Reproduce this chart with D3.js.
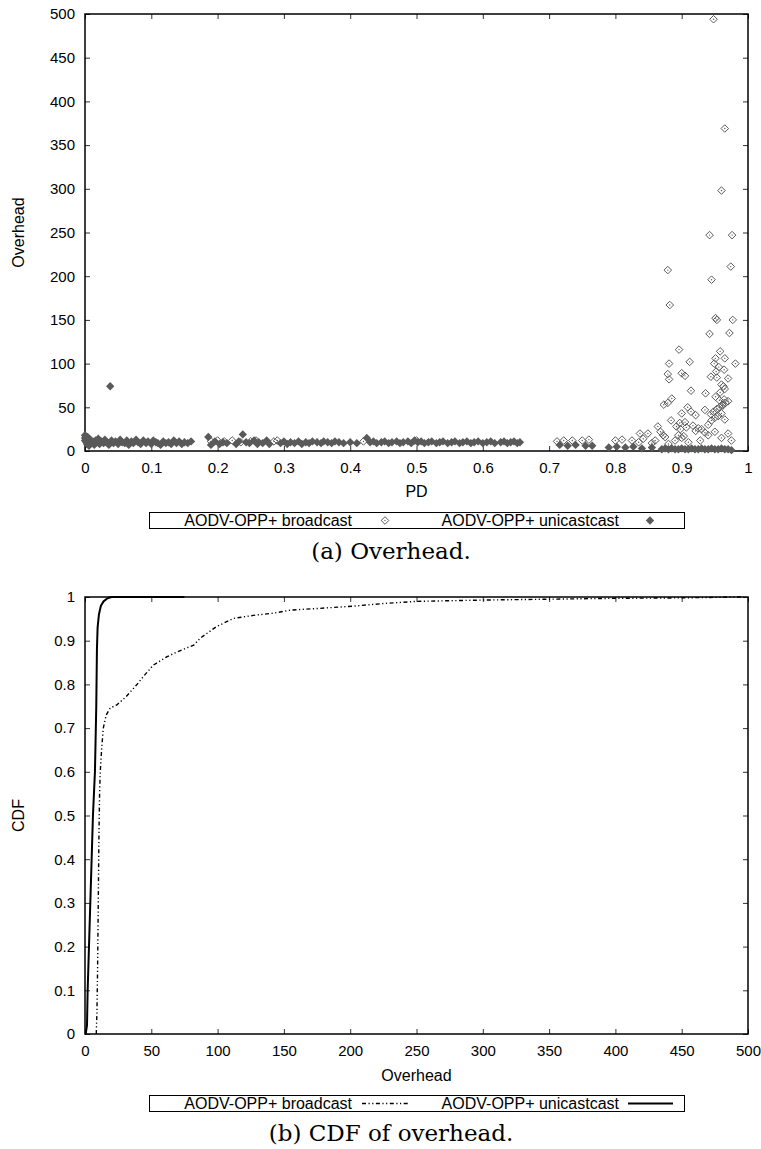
<!DOCTYPE html>
<html>
<head>
<meta charset="utf-8">
<script src="https://cdn.jsdelivr.net/npm/d3@7"></script>
<style>
  html, body { margin: 0; padding: 0; background: #fff; }
  svg { display: block; }
  .axis text { font-family: "Liberation Sans", Arial, sans-serif; font-size: 15px; fill: #000; }
  .axis path { display: none; }
  .axis line { stroke: #333; stroke-width: 1; }
  .lbl { font-family: "Liberation Sans", Arial, sans-serif; font-size: 16px; fill: #000; }
  .cap { font-family: "DejaVu Serif", serif; font-size: 23px; fill: #000; }
</style>
</head>
<body>
<script>
// ---- (a) scatter: packet delivery (PD) vs overhead ----
const pdTicks = [0, 0.1, 0.2, 0.3, 0.4, 0.5, 0.6, 0.7, 0.8, 0.9, 1];
const overheadTicks = [0, 50, 100, 150, 200, 250, 300, 350, 400, 450, 500];

// AODV-OPP+ broadcast: [PD, overhead]
const broadcastPoints = [
  [0.19, 11], [0.2, 12], [0.21, 11], [0.222, 12], [0.235, 10], [0.25, 11], [0.258, 12],
  [0.285, 11], [0.29, 12], [0.42, 11], [0.5, 12],
  [0.712, 11], [0.722, 12], [0.735, 12], [0.75, 12], [0.76, 13],
  [0.8, 12], [0.81, 13], [0.825, 12], [0.835, 10], [0.842, 14],
  [0.948, 494], [0.965, 369], [0.96, 298], [0.942, 247], [0.976, 247], [0.879, 207],
  [0.974, 211], [0.945, 196], [0.882, 167], [0.951, 152], [0.953, 150], [0.977, 150],
  [0.942, 134], [0.972, 135], [0.896, 116], [0.958, 114], [0.951, 106], [0.965, 106],
  [0.881, 100], [0.912, 102], [0.949, 100], [0.981, 100], [0.879, 88], [0.881, 82],
  [0.9, 89], [0.905, 86], [0.956, 96], [0.952, 91], [0.964, 93], [0.944, 85],
  [0.953, 84], [0.97, 83], [0.96, 76], [0.963, 74], [0.965, 71], [0.958, 67],
  [0.951, 62], [0.914, 69], [0.936, 66], [0.873, 53], [0.879, 55], [0.885, 60],
  [0.957, 58], [0.964, 59], [0.961, 53], [0.966, 55], [0.909, 50], [0.914, 45],
  [0.921, 41], [0.9, 43], [0.905, 33], [0.897, 32], [0.884, 35], [0.935, 47],
  [0.944, 42], [0.948, 45], [0.953, 48], [0.957, 50], [0.962, 52], [0.97, 57],
  [0.892, 28], [0.898, 25], [0.907, 27], [0.917, 29], [0.925, 26], [0.921, 23],
  [0.93, 25], [0.935, 21], [0.864, 28], [0.868, 22], [0.872, 18], [0.875, 16],
  [0.837, 20], [0.849, 20], [0.895, 18], [0.9, 15], [0.903, 17], [0.94, 30],
  [0.945, 35], [0.95, 38], [0.955, 40], [0.96, 43], [0.965, 36], [0.94, 18],
  [0.95, 22], [0.928, 12], [0.91, 10], [0.88, 8], [0.86, 12], [0.855, 9],
  [0.89, 12], [0.96, 15], [0.97, 20], [0.975, 12]
];

// AODV-OPP+ unicastcast: [PD, overhead]
const unicastPoints = [
  [0, 18], [0, 15], [0, 12], [0.002, 10], [0.003, 8], [0.004, 16], [0.006, 6], [0.008, 13],
  [0.01, 9], [0.012, 11], [0.014, 7], [0.016, 12], [0.018, 10], [0.02, 14], [0.022, 8],
  [0.025, 11], [0.028, 9], [0.03, 13], [0.033, 10], [0.036, 7], [0.038, 74], [0.04, 12],
  [0.043, 9], [0.046, 11], [0.05, 8], [0.053, 13], [0.056, 10], [0.06, 9], [0.063, 12],
  [0.066, 7], [0.07, 11], [0.073, 9], [0.077, 13], [0.08, 10], [0.084, 8], [0.088, 12],
  [0.092, 9], [0.095, 11], [0.1, 8], [0.103, 12], [0.107, 10], [0.11, 9], [0.114, 7],
  [0.118, 11], [0.122, 9], [0.126, 10], [0.13, 8], [0.134, 12], [0.138, 9], [0.142, 11],
  [0.146, 8], [0.15, 10], [0.155, 9], [0.16, 11],
  [0.186, 16], [0.19, 7], [0.196, 11], [0.203, 8], [0.208, 10], [0.214, 9],
  [0.228, 8], [0.232, 11], [0.238, 19], [0.243, 10], [0.248, 9], [0.255, 12], [0.26, 8],
  [0.262, 10], [0.268, 9], [0.274, 12], [0.278, 8],
  [0.295, 9], [0.3, 11], [0.305, 8], [0.31, 10], [0.316, 9], [0.322, 11], [0.327, 8],
  [0.333, 10], [0.338, 9], [0.343, 11], [0.35, 10], [0.356, 9], [0.36, 11], [0.366, 10],
  [0.372, 9], [0.377, 11], [0.383, 10], [0.39, 9],
  [0.4, 10], [0.41, 9], [0.425, 15], [0.43, 10], [0.435, 11], [0.44, 9], [0.447, 10],
  [0.452, 11], [0.458, 9], [0.463, 10], [0.47, 11], [0.475, 9], [0.48, 10], [0.487, 11],
  [0.492, 9], [0.497, 12], [0.502, 10], [0.507, 11], [0.512, 9], [0.518, 10], [0.523, 11],
  [0.53, 9], [0.535, 10], [0.54, 11], [0.547, 9], [0.553, 10], [0.558, 11], [0.565, 9],
  [0.57, 10], [0.576, 11], [0.582, 9], [0.587, 10], [0.593, 11], [0.6, 9], [0.606, 10],
  [0.612, 11], [0.618, 9], [0.627, 10], [0.632, 11], [0.637, 9], [0.642, 10], [0.647, 11],
  [0.652, 9], [0.656, 10],
  [0.716, 7], [0.728, 6], [0.74, 7], [0.755, 6], [0.765, 6], [0.79, 4], [0.802, 5],
  [0.815, 4], [0.827, 5], [0.84, 3], [0.855, 4], [0.87, 2], [0.875, 3], [0.88, 2],
  [0.885, 3], [0.89, 2], [0.895, 2], [0.9, 3], [0.905, 2], [0.91, 2], [0.915, 3],
  [0.92, 2], [0.925, 2], [0.93, 3], [0.935, 2], [0.94, 2], [0.945, 3], [0.95, 2],
  [0.955, 2], [0.96, 3], [0.965, 2], [0.97, 2], [0.975, 1]
];

// ---- (b) CDF of overhead: [overhead, cumulative fraction] ----
const cdfOverheadTicks = [0, 50, 100, 150, 200, 250, 300, 350, 400, 450, 500];
const cdfTicks = [0, 0.1, 0.2, 0.3, 0.4, 0.5, 0.6, 0.7, 0.8, 0.9, 1];

const broadcastCdf = [
  [8.5, 0], [9, 0.05], [9.5, 0.15], [10, 0.3], [10.5, 0.45], [11, 0.55], [11.5, 0.6],
  [12.5, 0.65], [13.8, 0.7], [16, 0.73], [19, 0.746], [24, 0.753], [31, 0.772],
  [39, 0.799], [44, 0.818], [51.5, 0.844], [61.6, 0.863], [70, 0.875], [82, 0.89],
  [87, 0.906], [99, 0.932], [112, 0.951], [127, 0.958], [142, 0.963], [155, 0.97],
  [177, 0.974], [202, 0.979], [225, 0.985], [250, 0.99], [300, 0.993], [350, 0.995],
  [400, 0.997], [450, 0.998], [495, 1.0]
];
const unicastCdf = [
  [0.5, 0], [1.5, 0.02], [2, 0.1], [3, 0.2], [4, 0.3], [5, 0.4], [6, 0.5], [7.5, 0.6],
  [8.5, 0.75], [9, 0.88], [9.5, 0.93], [10.5, 0.96], [12, 0.98], [14, 0.99],
  [17, 0.997], [20, 1], [75, 1]
];

const W = 761, H = 1149;
const svg = d3.select("body").append("svg").attr("width", W).attr("height", H);
svg.append("rect").attr("width", W).attr("height", H).attr("fill", "#fff");

const fmt = d => String(+(+d).toFixed(1));
const plotL = 85, plotR = 748;

// box frame with inward ticks on all four sides, labels on left/bottom
function frame(g, x, y, xt, yt) {
  const [top, bottom] = [y.range()[1], y.range()[0]];
  g.append("g").attr("class", "axis").attr("transform", `translate(0,${bottom})`)
    .call(d3.axisBottom(x).tickValues(xt).tickFormat(fmt).tickSize(-5).tickPadding(11));
  g.append("g").attr("class", "axis").attr("transform", `translate(0,${top})`)
    .call(d3.axisTop(x).tickValues(xt).tickFormat("").tickSize(-5));
  g.append("g").attr("class", "axis").attr("transform", `translate(${plotL},0)`)
    .call(d3.axisLeft(y).tickValues(yt).tickFormat(fmt).tickSize(-5).tickPadding(10));
  g.append("g").attr("class", "axis").attr("transform", `translate(${plotR},0)`)
    .call(d3.axisRight(y).tickValues(yt).tickFormat("").tickSize(-5));
  g.append("rect").attr("x", plotL).attr("y", top)
    .attr("width", plotR - plotL).attr("height", bottom - top)
    .attr("fill", "none").attr("stroke", "#000").attr("stroke-width", 1.5);
}

const diamond = "M0,-3.8L3.8,0L0,3.8L-3.8,0Z";
function openDiamond(sel) {
  sel.append("path").attr("d", diamond).attr("fill", "none")
    .attr("stroke", "#5a5a5a").attr("stroke-width", 1);
  sel.append("circle").attr("r", 0.7).attr("fill", "#5a5a5a");
}
function filledDiamond(sel) {
  sel.append("path").attr("d", "M0,-4.2L4.2,0L0,4.2L-4.2,0Z").attr("fill", "#5a5a5a");
}

function legend(g, y, items) {
  g.append("rect").attr("x", 149.5).attr("y", y + 0.5).attr("width", 535).attr("height", 16)
    .attr("fill", "#fff").attr("stroke", "#000").attr("stroke-width", 1);
  items.forEach(it => {
    g.append("text").attr("class", "lbl").attr("x", it.textEnd).attr("y", y + 8.5)
      .attr("text-anchor", "end").attr("dominant-baseline", "central").text(it.name);
    it.draw(g, y + 8.5);
  });
}

// ---------- (a) ----------
const gA = svg.append("g");
const xA = d3.scaleLinear().domain([0, 1]).range([plotL, plotR]);
const yA = d3.scaleLinear().domain([0, 500]).range([451, 14]);
frame(gA, xA, yA, pdTicks, overheadTicks);

gA.append("g").selectAll("g").data(unicastPoints).join("g")
  .attr("transform", d => `translate(${xA(d[0])},${yA(d[1])})`).call(filledDiamond);
gA.append("g").selectAll("g").data(broadcastPoints).join("g")
  .attr("transform", d => `translate(${xA(d[0])},${yA(d[1])})`).call(openDiamond);

gA.append("text").attr("class", "lbl").attr("x", (plotL + plotR) / 2).attr("y", 491)
  .attr("text-anchor", "middle").attr("dominant-baseline", "central").text("PD");
gA.append("text").attr("class", "lbl")
  .attr("transform", `translate(18,${(14 + 451) / 2}) rotate(-90)`)
  .attr("text-anchor", "middle").attr("dominant-baseline", "central").text("Overhead");

legend(gA, 512, [
  { name: "AODV-OPP+ broadcast", textEnd: 352,
    draw: (g, cy) => g.append("g").attr("transform", `translate(385,${cy})`).call(openDiamond) },
  { name: "AODV-OPP+ unicastcast", textEnd: 619,
    draw: (g, cy) => g.append("g").attr("transform", `translate(650,${cy})`).call(filledDiamond) }
]);
gA.append("text").attr("class", "cap").attr("x", 391).attr("y", 551)
  .attr("text-anchor", "middle").attr("dominant-baseline", "central").text("(a) Overhead.");

// ---------- (b) ----------
const gB = svg.append("g");
const xB = d3.scaleLinear().domain([0, 500]).range([plotL, plotR]);
const yB = d3.scaleLinear().domain([0, 1]).range([1034, 597]);
frame(gB, xB, yB, cdfOverheadTicks, cdfTicks);

const line = d3.line().x(d => xB(d[0])).y(d => yB(d[1]));
const dashBroadcast = "4,2.5,1.2,2.5,1.2,2.5";
gB.append("path").datum(broadcastCdf).attr("d", line).attr("fill", "none")
  .attr("stroke", "#000").attr("stroke-width", 1.4).attr("stroke-dasharray", dashBroadcast);
gB.append("path").datum(unicastCdf).attr("d", line).attr("fill", "none")
  .attr("stroke", "#000").attr("stroke-width", 2).attr("stroke-linejoin", "round");

gB.append("text").attr("class", "lbl").attr("x", (plotL + plotR) / 2).attr("y", 1075)
  .attr("text-anchor", "middle").attr("dominant-baseline", "central").text("Overhead");
gB.append("text").attr("class", "lbl")
  .attr("transform", `translate(18,${(597 + 1034) / 2}) rotate(-90)`)
  .attr("text-anchor", "middle").attr("dominant-baseline", "central").text("CDF");

legend(gB, 1095, [
  { name: "AODV-OPP+ broadcast", textEnd: 352,
    draw: (g, cy) => g.append("line").attr("x1", 362).attr("x2", 408).attr("y1", cy).attr("y2", cy)
      .attr("stroke", "#000").attr("stroke-width", 1.4).attr("stroke-dasharray", dashBroadcast) },
  { name: "AODV-OPP+ unicastcast", textEnd: 619,
    draw: (g, cy) => g.append("line").attr("x1", 628).attr("x2", 673).attr("y1", cy).attr("y2", cy)
      .attr("stroke", "#000").attr("stroke-width", 2) }
]);
gB.append("text").attr("class", "cap").attr("x", 391).attr("y", 1133)
  .attr("text-anchor", "middle").attr("dominant-baseline", "central").text("(b) CDF of overhead.");
</script>
</body>
</html>
